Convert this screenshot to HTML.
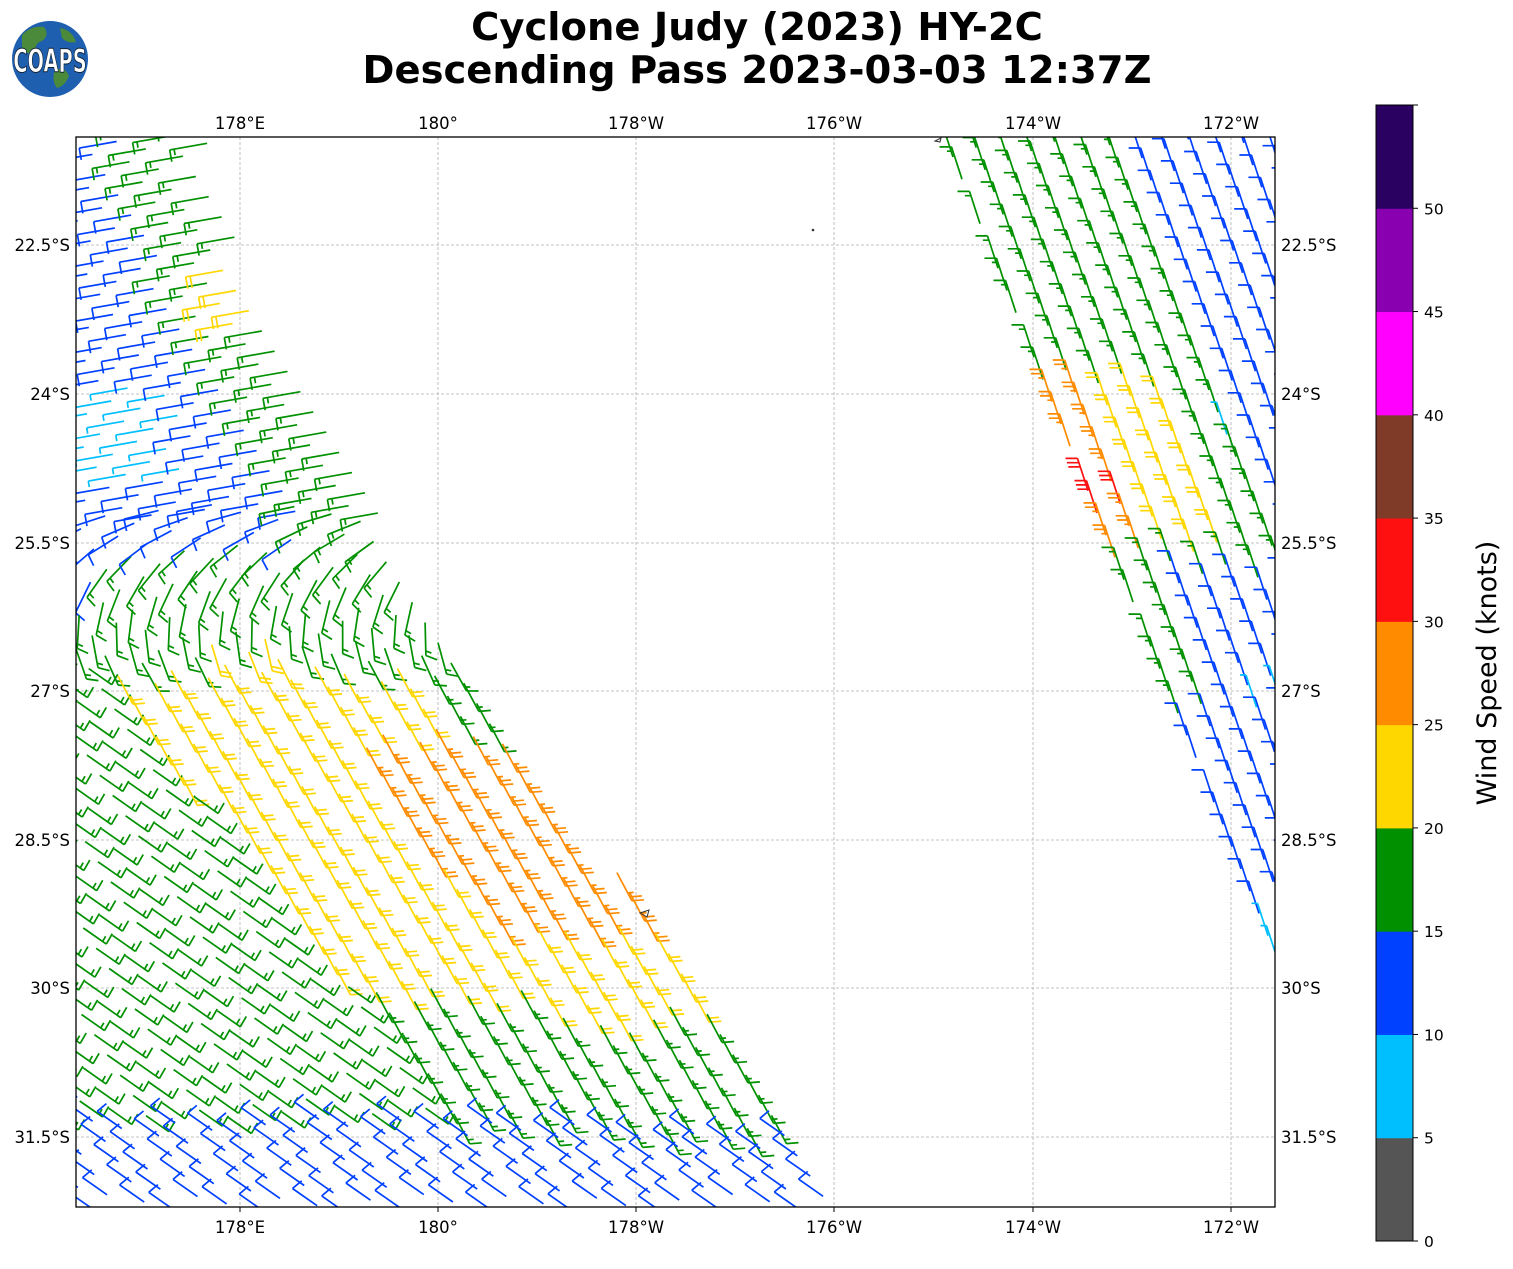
<!DOCTYPE html>
<html><head><meta charset="utf-8"><style>
html,body{margin:0;padding:0;background:#fff;}
svg text{font-family:"DejaVu Sans","Liberation Sans",sans-serif;}
</style></head><body>
<svg id="s" width="1513" height="1264" xmlns="http://www.w3.org/2000/svg">
<defs><clipPath id="cp"><rect x="76" y="137" width="1199" height="1070"/></clipPath></defs>
<rect width="1513" height="1264" fill="#fff"/>
<g id="grid" stroke="#b0b0b0" stroke-width="0.8" stroke-dasharray="3,2"></g>
<g id="barbs" clip-path="url(#cp)" fill="none" stroke-width="1.7" stroke-linecap="butt"></g>
<circle cx="813" cy="230" r="1.3" fill="#333"/>
<path d="M640,913 l9,-3 l-2,7 z" fill="none" stroke="#333" stroke-width="1"/>
<path d="M935,141 l6,-3 l-1,4 z" fill="none" stroke="#333" stroke-width="1"/>
<rect x="76" y="137" width="1199" height="1070" fill="none" stroke="#000" stroke-width="1.3"/>
<g id="labels" font-size="16.5" fill="#000"></g>
<text x="757" y="40" font-size="38.5" font-weight="bold" text-anchor="middle">Cyclone Judy (2023) HY-2C</text>
<text x="757" y="83" font-size="38.5" font-weight="bold" text-anchor="middle">Descending Pass 2023-03-03 12:37Z</text>
<g>
<circle cx="50" cy="59" r="38" fill="#1e5fb0"/>
<path d="M22,35 q10,-10 22,-8 q6,8 -2,14 q-8,2 -6,12 q-8,4 -14,-6 z" fill="#4a8a3a"/>
<path d="M55,70 q10,-4 14,6 q-4,10 -12,12 q-6,-8 -2,-18 z" fill="#4a8a3a"/>
<path d="M60,28 q12,2 16,14 q-8,2 -14,-4 z" fill="#4a8a3a"/>
<text x="50" y="72" font-size="27" font-weight="bold" fill="#fff" stroke="#123" stroke-width="0.8" text-anchor="middle" font-family="Liberation Sans Narrow, Liberation Sans, sans-serif" transform="translate(50,72) scale(0.72,1.2) translate(-50,-72)">COAPS</text>
</g>
<g id="cbar"></g>
<text transform="translate(1496,673) rotate(-90)" font-size="27" text-anchor="middle">Wind Speed (knots)</text>
</svg>
<script>
(function(){
const NS="http://www.w3.org/2000/svg";
function el(p,t,a,txt){const e=document.createElementNS(NS,t);for(const k in a)e.setAttribute(k,a[k]);if(txt!==undefined)e.textContent=txt;p.appendChild(e);return e;}
const grid=document.getElementById('grid'),lab=document.getElementById('labels');
const lons=[[240,"178°E"],[438,"180°"],[636,"178°W"],[834,"176°W"],[1033,"174°W"],[1231,"172°W"]];
const lats=[[245,"22.5°S"],[394,"24°S"],[543,"25.5°S"],[691,"27°S"],[840,"28.5°S"],[988,"30°S"],[1137,"31.5°S"]];
lons.forEach(([x,t])=>{el(grid,'line',{x1:x,y1:137,x2:x,y2:1207});
 el(lab,'text',{x:x,y:129,'text-anchor':'middle'},t);el(lab,'text',{x:x,y:1233,'text-anchor':'middle'},t);
 el(lab,'line',{x1:x,y1:1207,x2:x,y2:1212,stroke:'#000'});});
lats.forEach(([y,t])=>{el(grid,'line',{x1:76,y1:y,x2:1275,y2:y});
 el(lab,'text',{x:70,y:y+6,'text-anchor':'end'},t);el(lab,'text',{x:1281,y:y+6},t);});
const cb=document.getElementById('cbar');
const cols=["#555555","#00bfff","#0040ff","#009000","#ffd700","#ff8c00","#ff1010","#803a28","#ff00ff","#8800b0","#2a0060"];
const cTop=105,cBot=1241,cH=(cBot-cTop)/11;
cols.forEach((c,i)=>{el(cb,'rect',{x:1376,y:cBot-(i+1)*cH,width:37,height:cH+0.5,fill:c});});
el(cb,'rect',{x:1376,y:cTop,width:37,height:cBot-cTop,fill:'none',stroke:'#000','stroke-width':1});
for(let i=0;i<=10;i++){const y=cBot-i*cH;el(cb,'line',{x1:1413,y1:y,x2:1418,y2:y,stroke:'#000'});
 el(cb,'text',{x:1424,y:y+6,'font-size':15.5},String(i*5));}
el(cb,'line',{x1:1413,y1:cTop,x2:1418,y2:cTop,stroke:'#000'});
const B=document.getElementById('barbs');
const C={cy:"#00bfff",bl:"#0040ff",gr:"#009000",ye:"#ffd700",or:"#ff8c00",re:"#ff1010"};
const NT={cy:1,bl:2,gr:3,ye:4,or:5,re:6};
function barb(x,y,ang,tickAng,col,L){
 const a=ang*Math.PI/180,ux=Math.cos(a),uy=Math.sin(a);
 const tx=x+ux*L,ty=y+uy*L;
 let d=`M${x.toFixed(1)},${y.toFixed(1)}L${tx.toFixed(1)},${ty.toFixed(1)}`;
 const ta=tickAng*Math.PI/180,vx=Math.cos(ta),vy=Math.sin(ta);
 const n=NT[col];const full=Math.floor(n/2),half=n%2;
 let k=0;
 for(let i=0;i<full;i++,k++){const px=tx-ux*k*4.5,py=ty-uy*k*4.5;d+=`M${px.toFixed(1)},${py.toFixed(1)}l${(vx*12).toFixed(1)},${(vy*12).toFixed(1)}`;}
 if(half){const px=tx-ux*k*4.5,py=ty-uy*k*4.5;d+=`M${px.toFixed(1)},${py.toFixed(1)}l${(vx*6).toFixed(1)},${(vy*6).toFixed(1)}`;}
 el(B,'path',{d:d,stroke:C[col]});
}
function interp(pts,y){if(y<=pts[0][0])return pts[0][1];for(let i=1;i<pts.length;i++){if(y<=pts[i][0]){const f=(y-pts[i-1][0])/(pts[i][0]-pts[i-1][0]);return pts[i-1][1]+f*(pts[i][1]-pts[i-1][1]);}}return pts[pts.length-1][1];}
const LE=[[120,170],[140,180],[270,225],[400,300],[520,370],[700,470],[870,610],[1030,720],[1207,830],[1240,850]];
(function(){
 const ox=150,oy=140,dx=0.537,dy=0.843,nx=0.843,ny=-0.537,s=24;
 for(let i=-10;i<70;i++)for(let j=-50;j<10;j++){
  const x=ox+i*s*dx+j*s*nx+(j%2)*4, y=oy+i*s*dy+j*s*ny;
  if(x<50||x>900||y<110||y>1230)continue;
  const D=interp(LE,y)-x; if(D<-5)continue;
  let col;
  const blueY=1135+Math.max(0,(x-500))*0.05;
  if(y>blueY)col='bl';
  else if(y<560){col=D<83?'gr':'bl';if(x<160&&y>390&&y<480)col='cy';if(x>195&&y>262&&y<330&&D<53)col='ye';}
  else if(y<680){col=(x<110&&y<600)?'bl':'gr';if(D<237&&D>60&&y>650&&x<300)col='ye';}
  else{
   if(D<47)col=y<740?'gr':(y<935?'or':(y<1020?'ye':'gr'));
   else if(D<166)col=y<745?'ye':(y<940?'or':(y<1030?'ye':'gr'));
   else if(D<356)col=y<1000?'ye':'gr';
   else col='gr';
  }
  let ang,tk,L;
  if(y<520){ang=170;tk=80;L=38;}
  else if(y<680){const f=(y-520)/160;ang=170-f*(170-60);tk=80-f*80;L=36-f*4;}
  else if(y>blueY){ang=215;tk=-40;L=30;}
  else if(col==='gr'&&D>340){ang=35;tk=-60;L=28;}
  else {ang=62;tk=-5;L=32;}
  if(y<520){barb(x+20,y-4,ang,tk,col,L);}else barb(x-10,y-16,ang,tk,col,L);
 }
})();
(function(){
 const ox=945,oy=137,dx=0.375,dy=0.927,nx=0.927,ny=-0.375,s=24;
 for(let i=-6;i<45;i++)for(let j=0;j<18;j++){
  const x=ox+i*s*dx+j*25*nx, y=oy+i*s*dy+j*25*ny;
  if(x<900||x>1300||y<110||y>960)continue;
  const c=(x-ox)*nx+(y-oy)*ny;if(c<0)continue;
  let col=c<150?'gr':'bl';
  if(y>560)col=(c<40&&y<700)?'gr':'bl';
  if(y>370&&y<540&&c<100){col=c<40?'or':'ye';if(c<25&&y>462&&y<500)col='re';}
  if((x>1200&&x<1225&&y>395&&y<420)||(x>1245&&y>660&&y<690)||(x>1255&&y>885&&y<940))col='cy';
  barb(x+8,y+20,-108,180,col,34);
 }
})();
})();
</script>
</body></html>
